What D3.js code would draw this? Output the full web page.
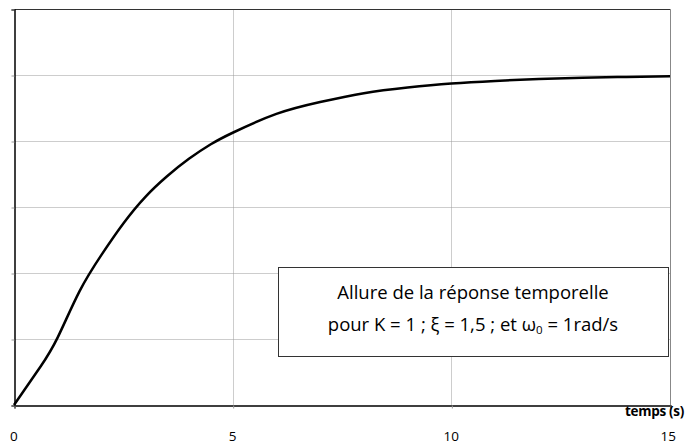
<!DOCTYPE html>
<html>
<head>
<meta charset="utf-8">
<script src="https://cdn.jsdelivr.net/npm/d3@7"></script>
<style>
  html, body { margin: 0; padding: 0; background: #fff; }
  svg { display: block; }
</style>
</head>
<body>
<svg id="chart" width="686" height="444"></svg>
<script>
// Step response samples: time (s) and output
const timeValues = [0, 0.6, 1, 1.5, 2, 2.5, 3, 3.5, 4, 4.5, 5, 6, 7, 8, 9, 10, 11, 12, 13, 14, 15];
const responseValues = [0, 0.115, 0.205, 0.345, 0.455, 0.55, 0.63, 0.693, 0.746, 0.79, 0.825, 0.882, 0.918, 0.945, 0.962, 0.974, 0.982, 0.988, 0.992, 0.994, 0.996];
const xTickValues = [0, 5, 10, 15];
const yTickValues = [0, 0.2, 0.4, 0.6, 0.8, 1, 1.2];
const axisTitle = "temps (s)";
const noteLine1 = "Allure de la réponse temporelle";
const noteLine2 = ["pour K = 1 ; ξ = 1,5 ; et ω", "0", " = 1rad/s"];

const FONT = "'Open Sans', Lato, sans-serif";
const svg = d3.select("#chart");
const plotLeft = 14, plotRight = 670, plotTop = 9, plotBottom = 405;
const x = d3.scaleLinear().domain([0, 15]).range([plotLeft, plotRight]);
const y = d3.scaleLinear().domain([0, 1.2]).range([plotBottom, plotTop]);

const g = svg.append("g").attr("transform", "translate(0.5,0.5)");

// grid
g.append("g").selectAll("line").data(yTickValues.filter(v => v > 0 && v < 1.2)).join("line")
  .attr("x1", plotLeft).attr("x2", plotRight).attr("y1", d => Math.round(y(d))).attr("y2", d => Math.round(y(d)))
  .attr("stroke", "#9a9a9a").attr("stroke-width", 1).attr("stroke-dasharray", "1,1");
g.append("g").selectAll("line").data(xTickValues.filter(v => v > 0 && v < 15)).join("line")
  .attr("x1", d => Math.round(x(d))).attr("x2", d => Math.round(x(d))).attr("y1", plotTop).attr("y2", plotBottom)
  .attr("stroke", "#9a9a9a").attr("stroke-width", 1).attr("stroke-dasharray", "1,1");

// frame: top and right
g.append("line").attr("x1", plotLeft).attr("x2", plotRight).attr("y1", plotTop).attr("y2", plotTop)
  .attr("stroke", "#333").attr("stroke-width", 1);
g.append("line").attr("x1", plotRight).attr("x2", plotRight).attr("y1", plotTop).attr("y2", plotBottom)
  .attr("stroke", "#888").attr("stroke-width", 1);

// y axis (ticks only, no labels)
const yAxis = d3.axisLeft(y).tickValues(yTickValues).tickSize(3).tickFormat("");
const ya = g.append("g").attr("transform", `translate(${plotLeft},0)`).call(yAxis);
ya.select(".domain").attr("stroke", "#000").attr("stroke-width", 1.5);
ya.selectAll(".tick line").attr("stroke", "#999");

// x axis
const xAxis = d3.axisBottom(x).tickValues(xTickValues).tickSize(3).tickFormat("");
const xa = g.append("g").attr("transform", `translate(0,${plotBottom})`).call(xAxis);
xa.select(".domain").attr("stroke", "#000").attr("stroke-width", 1.5);
xa.selectAll(".tick line").attr("stroke", "#999");

// x tick labels
svg.append("g").selectAll("text").data(xTickValues).join("text")
  .attr("x", d => x(d)).attr("y", 441)
  .attr("text-anchor", d => d === 0 ? "start" : (d === 15 ? "end" : "middle"))
  .attr("dx", d => d === 0 ? -4 : (d === 15 ? 6 : 0))
  .attr("font-family", FONT).attr("font-size", 13.5).attr("fill", "#000")
  .text(d => d);

// axis title
svg.append("text").attr("x", 684).attr("y", 416).attr("text-anchor", "end")
  .attr("font-family", FONT).attr("font-size", 13.5).attr("font-weight", "bold")
  .attr("letter-spacing", -0.3)
  .text(axisTitle);

// response curve
const pts = timeValues.map((t, i) => [t, responseValues[i]]);
const line = d3.line().x(d => x(d[0])).y(d => y(d[1])).curve(d3.curveNatural);
svg.append("path").datum(pts).attr("d", line)
  .attr("fill", "none").attr("stroke", "#000").attr("stroke-width", 2.5).attr("stroke-linejoin", "round");

// annotation box
g.append("rect").attr("x", 278).attr("y", 267).attr("width", 390).attr("height", 89)
  .attr("fill", "#fff").attr("stroke", "#333").attr("stroke-width", 1);
const note = svg.append("g").attr("font-family", FONT).attr("font-size", 18.5).attr("fill", "#000")
  .attr("text-anchor", "middle");
note.append("text").attr("x", 473).attr("y", 299).text(noteLine1);
const t2 = note.append("text").attr("x", 473).attr("y", 331);
t2.append("tspan").text(noteLine2[0]);
t2.append("tspan").attr("font-size", 11.5).attr("dy", 3).text(noteLine2[1]);
t2.append("tspan").attr("dy", -3).text(noteLine2[2]);
</script>
</body>
</html>
